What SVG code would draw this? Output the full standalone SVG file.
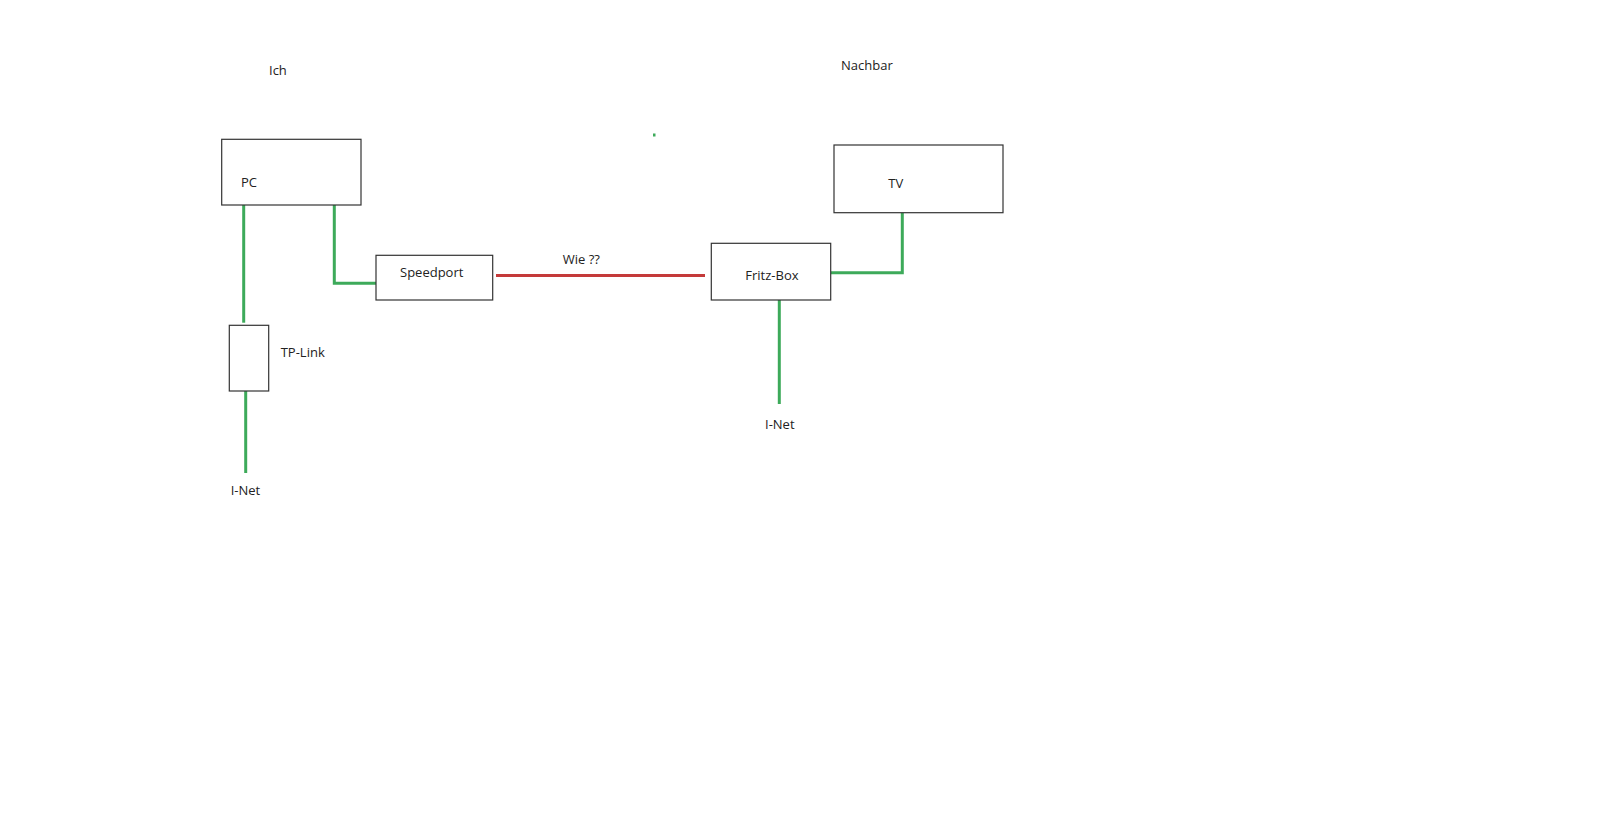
<svg xmlns="http://www.w3.org/2000/svg" width="1600" height="814" viewBox="0 0 1600 814">
<style>
.box{fill:#fff;stroke:#333;stroke-width:1.2}
.t{font-family:"Open Sans","Liberation Sans",sans-serif;font-size:13px;fill:#222}
.g{fill:none;stroke:#3daa5a;stroke-width:3}
.r{fill:none;stroke:#c43a3a;stroke-width:3}
</style>
<rect width="1600" height="814" fill="#fff"/>
<text class="t" x="269" y="75">Ich</text>
<text class="t" x="841" y="70">Nachbar</text>
<g id="connectors">
<path class="g" d="M243.7 205 V322.7"/>
<path class="g" d="M245.7 391 V473"/>
<path class="g" d="M334.3 205 V283.3 H376"/>
<path class="r" d="M496 275.5 H705"/>
<path class="g" d="M830.7 272.7 H902.3 V212.7"/>
<path class="g" d="M779.3 300 V404"/>
<rect x="653" y="133.5" width="2.5" height="3" fill="#3daa5a"/>
</g>
<g id="pc"><rect class="box" x="221.7" y="139.3" width="139.3" height="65.7"/><text class="t" x="241" y="187">PC</text></g>
<g id="speedport"><rect class="box" x="376" y="255.3" width="116.7" height="44.7"/><text class="t" x="400" y="277">Speedport</text></g>
<g id="tplink"><rect class="box" x="229.3" y="325.3" width="39.4" height="65.7"/><text class="t" x="280.7" y="357">TP-Link</text></g>
<g id="inet-left"><text class="t" x="230.7" y="495">I-Net</text></g>
<g id="wie"><text class="t" x="562.7" y="263.5">Wie ??</text></g>
<g id="fritzbox"><rect class="box" x="711.3" y="243.3" width="119.4" height="56.7"/><text class="t" x="745.3" y="279.5">Fritz-Box</text></g>
<g id="tv"><rect class="box" x="834" y="145" width="169" height="67.7"/><text class="t" x="888.3" y="187.5">TV</text></g>
<g id="inet-right"><text class="t" x="765" y="428.5">I-Net</text></g>
</svg>
